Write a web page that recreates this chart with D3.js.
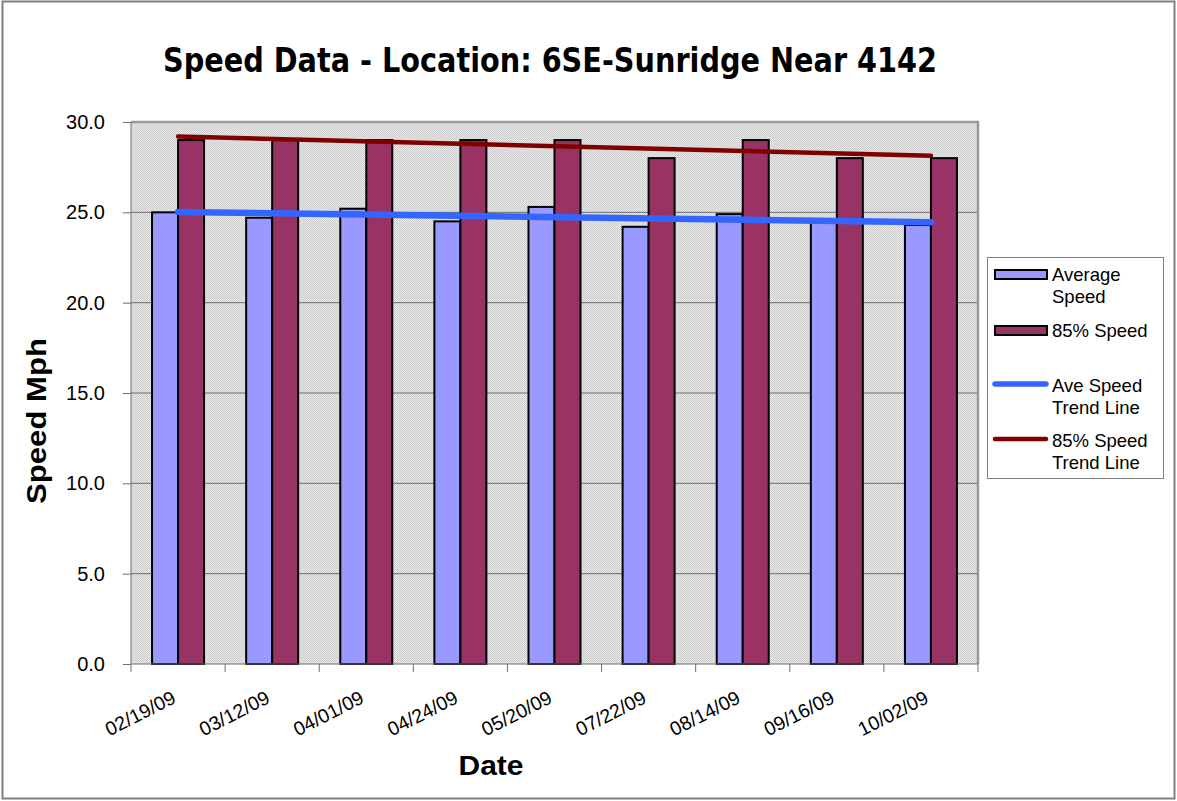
<!DOCTYPE html>
<html><head><meta charset="utf-8">
<script src="https://cdn.jsdelivr.net/npm/d3@7"></script>
<style>body{margin:0;background:#fff}svg{display:block;font-family:"Liberation Sans",Arial,sans-serif}</style>
</head><body><svg id="c" width="1177" height="801"></svg>
<script>
const dates = ["02/19/09","03/12/09","04/01/09","04/24/09","05/20/09","07/22/09","08/14/09","09/16/09","10/02/09"];
const avgSpeed = [25.0,24.7,25.2,24.5,25.3,24.2,24.9,24.5,24.3];
const p85Speed = [29,29,29,29,29,28,29,28,28];
const yTicks = [0,5,10,15,20,25,30];
const title = "Speed Data - Location: 6SE-Sunridge Near 4142";

const svg = d3.select("#c");
const L=131, R=978, T=122, B=664;

// outer border
svg.append("rect").attr("x",2.5).attr("y",1.5).attr("width",1172).attr("height",797)
  .attr("fill","#fff").attr("stroke","#808080").attr("stroke-width",2);

// pattern
const defs = svg.append("defs");
const pat = defs.append("pattern").attr("id","dots").attr("width",2).attr("height",2).attr("patternUnits","userSpaceOnUse");
pat.append("rect").attr("width",2).attr("height",2).attr("fill","#e6e6e6");
pat.append("rect").attr("width",1).attr("height",1).attr("fill","#cfcfcf");
pat.append("rect").attr("x",1).attr("y",1).attr("width",1).attr("height",1).attr("fill","#cfcfcf");

const x = d3.scaleBand().domain(dates).range([L,R]);
const y = d3.scaleLinear().domain([0,30]).range([B,T]);
const barW = 26;

// plot area
svg.append("rect").attr("x",L).attr("y",T).attr("width",R-L).attr("height",B-T).attr("fill","url(#dots)");

// gridlines
svg.append("g").selectAll("line").data(yTicks.filter(d=>d>0&&d<30)).join("line")
  .attr("x1",L).attr("x2",R).attr("y1",d=>y(d)).attr("y2",d=>y(d))
  .attr("stroke","#6e6e6e").attr("stroke-width",1);

// border top/right
svg.append("path").attr("d",`M${L},${T}H${R}V${B}`).attr("fill","none").attr("stroke","#999").attr("stroke-width",2.5);

// bars
const gb = svg.append("g");
gb.selectAll("rect.avg").data(dates).join("rect")
  .attr("x",d=>x(d)+x.bandwidth()/2-barW).attr("y",(d,i)=>y(avgSpeed[i]))
  .attr("width",barW).attr("height",(d,i)=>B-y(avgSpeed[i]))
  .attr("fill","#9999ff").attr("stroke","#000").attr("stroke-width",2);
gb.selectAll("rect.p85").data(dates).join("rect")
  .attr("x",d=>x(d)+x.bandwidth()/2).attr("y",(d,i)=>y(p85Speed[i]))
  .attr("width",barW).attr("height",(d,i)=>B-y(p85Speed[i]))
  .attr("fill","#993366").attr("stroke","#000").attr("stroke-width",2);

// axes
const yAxis = svg.append("g").attr("transform",`translate(${L},0)`)
  .call(d3.axisLeft(y).tickValues(yTicks).tickFormat(d3.format(".1f")).tickSize(8).tickPadding(18));
yAxis.select(".domain").attr("stroke","#6e6e6e").attr("d",`M0,${T}V${B}`);
yAxis.selectAll(".tick line").attr("stroke","#6e6e6e");
yAxis.selectAll("text").attr("font-size",20).attr("fill","#000").attr("font-family","Liberation Sans, Arial");

const xAxis = svg.append("g").attr("transform",`translate(0,${B})`);
xAxis.append("line").attr("x1",L).attr("x2",R).attr("stroke","#6e6e6e");
xAxis.selectAll("line.t").data(d3.range(dates.length+1)).join("line")
  .attr("x1",i=>L+i*x.step()).attr("x2",i=>L+i*x.step()).attr("y1",0).attr("y2",8).attr("stroke","#6e6e6e");
xAxis.selectAll("text").data(dates).join("text")
  .attr("transform",d=>`translate(${x(d)+x.bandwidth()/2-1},38) rotate(-27)`)
  .attr("text-anchor","end").attr("font-size",19.5).attr("fill","#000").text(d=>d);

// trend lines (least squares)
function trend(vals){
  const n=vals.length, xs=d3.range(1,n+1);
  const mx=d3.mean(xs), my=d3.mean(vals);
  const s=d3.sum(xs,(xx,i)=>(xx-mx)*(vals[i]-my))/d3.sum(xs,xx=>(xx-mx)**2);
  return xs.map(xx=>my+s*(xx-mx));
}
const tA = trend(avgSpeed), tP = trend(p85Speed);
function seg(t){return `M${x(dates[0])+x.bandwidth()/2},${y(t[0])}L${x(dates[dates.length-1])+x.bandwidth()/2},${y(t[t.length-1])}`;}
svg.append("path").attr("d",seg(tP)).attr("stroke","#800000").attr("stroke-width",4.5).attr("stroke-linecap","round").attr("fill","none");
svg.append("path").attr("d",seg(tA)).attr("stroke","#3366ff").attr("stroke-width",6.5).attr("stroke-linecap","round").attr("fill","none");

// title
svg.append("text").attr("x",550).attr("y",72).attr("text-anchor","middle")
  .style("font-family","'DejaVu Sans Condensed', 'DejaVu Sans'").attr("font-weight","bold").attr("font-size",34)
  .attr("textLength",774).attr("lengthAdjust","spacingAndGlyphs").text(title);

// axis titles
svg.append("text").attr("transform","translate(46,421) rotate(-90)").attr("text-anchor","middle")
  .attr("font-weight","bold").attr("font-size",27).attr("textLength",166).attr("lengthAdjust","spacingAndGlyphs").text("Speed Mph");
svg.append("text").attr("x",491).attr("y",775).attr("text-anchor","middle")
  .attr("font-weight","bold").attr("font-size",27).attr("textLength",65).attr("lengthAdjust","spacingAndGlyphs").text("Date");

// legend
const lg = svg.append("g");
lg.append("rect").attr("x",987.5).attr("y",257.5).attr("width",176).attr("height",221).attr("fill","#fff").attr("stroke","#808080");
lg.append("rect").attr("x",995).attr("y",270).attr("width",52).attr("height",9).attr("fill","#9999ff").attr("stroke","#000").attr("stroke-width",2);
lg.append("rect").attr("x",995).attr("y",326).attr("width",52).attr("height",9).attr("fill","#993366").attr("stroke","#000").attr("stroke-width",2);
lg.append("line").attr("x1",995).attr("x2",1046).attr("y1",384).attr("y2",384).attr("stroke","#3366ff").attr("stroke-width",5.5).attr("stroke-linecap","round");
lg.append("line").attr("x1",995).attr("x2",1046).attr("y1",439).attr("y2",439).attr("stroke","#800000").attr("stroke-width",4.5).attr("stroke-linecap","round");
const legText = [["Average",281],["Speed",303],["85% Speed",337],["Ave Speed",392],["Trend Line",414],["85% Speed",447],["Trend Line",469]];
lg.selectAll("text").data(legText).join("text").attr("x",1052).attr("y",d=>d[1])
  .attr("font-size",18.5).attr("fill","#000").text(d=>d[0]);
</script></body></html>
